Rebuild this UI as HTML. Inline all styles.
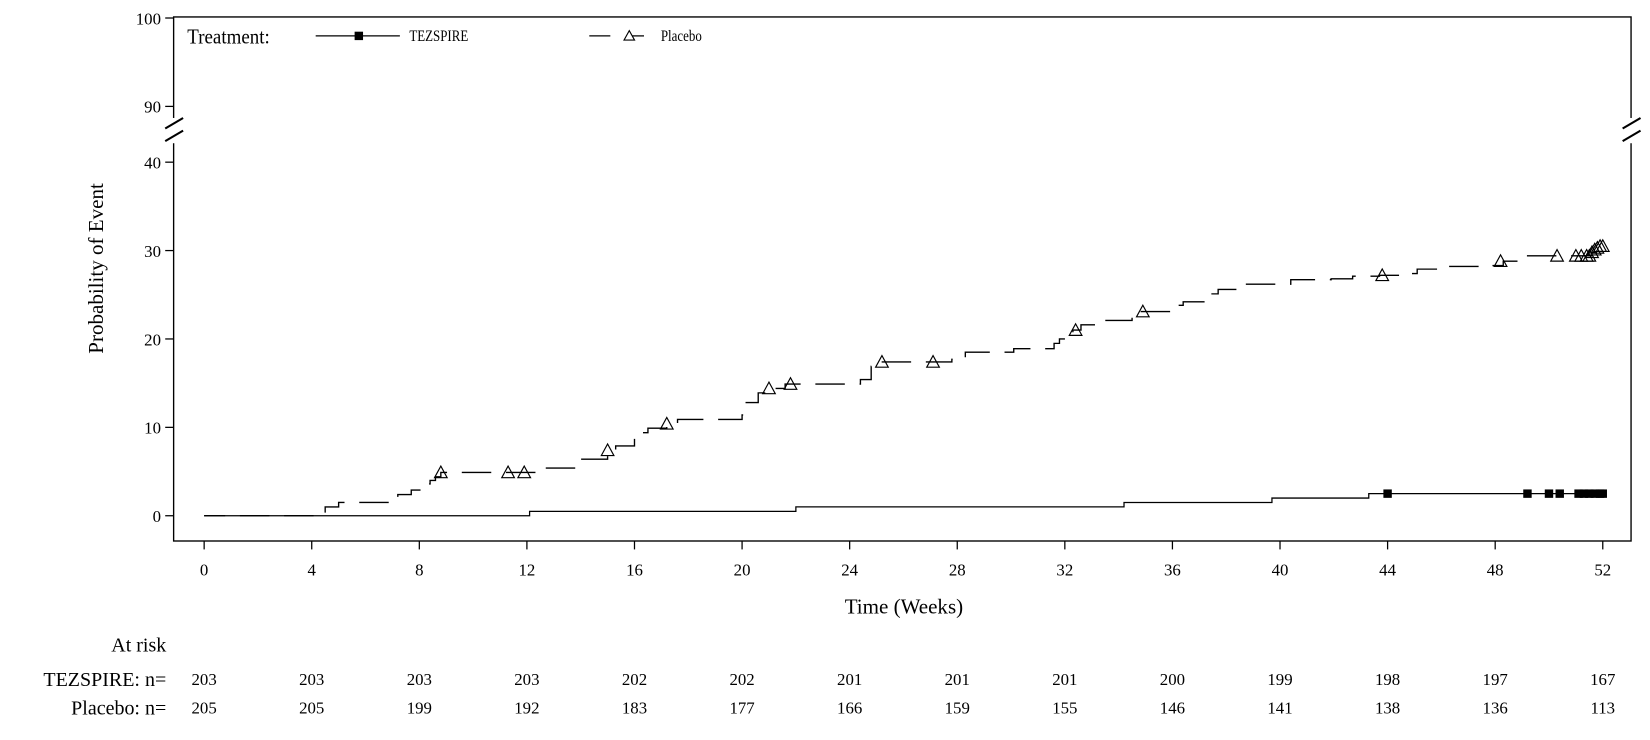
<!DOCTYPE html>
<html><head><meta charset="utf-8"><style>
html,body{margin:0;padding:0;background:#fff}
svg{display:block}
text{font-family:"Liberation Serif",serif;fill:#000}
</style></head><body>
<svg id="s" width="1650" height="740" viewBox="0 0 1568 703" xmlns="http://www.w3.org/2000/svg">
<rect x="165" y="16" width="1385" height="498" fill="none" stroke="#000" stroke-width="1.3"/>
<rect x="155" y="112" width="20" height="24" fill="#fff"/>
<rect x="1540" y="112" width="20" height="24" fill="#fff"/>
<g stroke="#000" stroke-width="2">
<line x1="157" y1="122" x2="174" y2="112"/><line x1="157" y1="134" x2="174" y2="124"/>
<line x1="1542" y1="122" x2="1559" y2="112"/><line x1="1542" y1="134" x2="1559" y2="124"/>
</g>
<g id="yt" font-size="16" text-anchor="end"></g>
<g id="xt" font-size="16" text-anchor="middle"></g>
<text x="859" y="583" font-size="20" text-anchor="middle">Time (Weeks)</text>
<text transform="translate(98,255) rotate(-90)" font-size="20" text-anchor="middle">Probability of Event</text>
<text transform="translate(178,41) scale(0.9,1)" font-size="20">Treatment:</text>
<line x1="300" y1="34" x2="380" y2="34" stroke="#000" stroke-width="1.2"/>
<rect x="337" y="30" width="8" height="8" fill="#000"/>
<text transform="translate(389,39) scale(0.82,1)" font-size="15">TEZSPIRE</text>
<line x1="560" y1="34" x2="580" y2="34" stroke="#000" stroke-width="1.2"/>
<line x1="598" y1="34" x2="612" y2="34" stroke="#000" stroke-width="1.2"/>
<path d="M593,38 L598,29 L603,38 Z" fill="#fff" stroke="#000" stroke-width="1.1"/>
<text transform="translate(628,39) scale(0.82,1)" font-size="15">Placebo</text>
<g id="curves"></g>
<text x="158" y="619" font-size="19" text-anchor="end">At risk</text>
<text x="158" y="652" font-size="19" text-anchor="end">TEZSPIRE: n=</text>
<text x="158" y="679" font-size="19" text-anchor="end">Placebo: n=</text>
<g id="ar" font-size="16" text-anchor="middle"></g>
</svg>
<script>
const NS="http://www.w3.org/2000/svg";
const X=w=>194+w*25.56, Y=v=>490-v*8.4;
function el(p,t,a,txt){const e=document.createElementNS(NS,t);for(const k in a)e.setAttribute(k,a[k]);if(txt!==undefined)e.textContent=txt;document.getElementById(p).appendChild(e);return e;}
[[100,17],[90,101],[40,154],[30,238],[20,322],[10,406],[0,490]].forEach(([v,y])=>{
 el('yt','line',{x1:157,y1:y,x2:165,y2:y,stroke:'#000','stroke-width':1.2});
 el('yt','text',{x:153,y:y+6},v);
});
for(let w=0;w<=52;w+=4){const x=X(w);
 el('xt','line',{x1:x,y1:514,x2:x,y2:522,stroke:'#000','stroke-width':1.2});
 el('xt','text',{x:x,y:547},w);}
const tz=[203,203,203,203,202,202,201,201,201,200,199,198,197,167];
const pb=[205,205,199,192,183,177,166,159,155,146,141,138,136,113];
tz.forEach((n,i)=>{el('ar','text',{x:X(i*4),y:651},n);el('ar','text',{x:X(i*4),y:678},pb[i]);});
function step(pts,end){let d=`M${X(0)},${Y(0)}`;pts.forEach(([w,v])=>{d+=` H${X(w)} V${Y(v)}`;});d+=` H${X(end)}`;return d;}
const T=[[12.1,0.5],[22,1.0],[34.2,1.5],[39.7,2.0],[43.3,2.5]];
el('curves','path',{d:step(T,52),fill:'none',stroke:'#000','stroke-width':1.2});
[44,49.2,50,50.4,51.1,51.3,51.5,51.7,51.9,52].forEach(w=>el('curves','rect',{x:X(w)-4,y:Y(2.5)-4,width:8,height:8,fill:'#000'}));
const P=[[4.5,1.0],[5,1.5],[7.2,2.4],[7.7,2.9],[8.2,3.6],[8.4,4.0],[8.6,4.4],[8.8,4.9],[12.6,5.4],[13.8,6.4],[15,7.4],[15.3,7.9],[16,8.9],[16.3,9.4],[16.5,9.9],[17.2,10.4],[17.6,10.9],[20,11.4],[20.1,12.8],[20.6,13.9],[21,14.4],[21.6,14.9],[24.4,15.4],[24.8,16.9],[25.1,17.4],[27.8,17.7],[28.3,18.5],[30.1,18.9],[31.6,19.5],[31.8,20],[32.3,21],[32.6,21.6],[33.5,22.1],[34.5,23.1],[36.1,23.8],[36.4,24.2],[37.3,25.1],[37.7,25.6],[38.6,26.2],[40.4,26.7],[41.9,26.8],[42.7,27.1],[43.7,27.2],[44.5,27.4],[45.1,27.9],[46.2,28.2],[47.7,28.3],[48.3,28.8],[49.0,29.4],[51.6,29.8],[51.8,30.2],[51.9,30.5]];
el('curves','path',{d:step(P,52),fill:'none',stroke:'#000','stroke-width':1.3,'stroke-dasharray':'28 14','stroke-dashoffset':'-118'});
[[8.8,4.9],[11.3,4.9],[11.9,4.9],[15,7.4],[17.2,10.4],[21,14.4],[21.8,14.9],[25.2,17.4],[27.1,17.4],[32.4,21],[34.9,23.1],[43.8,27.2],[48.2,28.8],[50.3,29.4],[51.0,29.4],[51.2,29.4],[51.4,29.4],[51.5,29.4],[51.6,29.8],[51.7,30.1],[51.8,30.3],[51.9,30.5],[52,30.5]].forEach(([w,v])=>{
 const x=X(w),y=Y(v);el('curves','path',{d:`M${x-6},${y+5} L${x},${y-6} L${x+6},${y+5} Z`,fill:'none',stroke:'#000','stroke-width':1.1});});
</script>
</body></html>
